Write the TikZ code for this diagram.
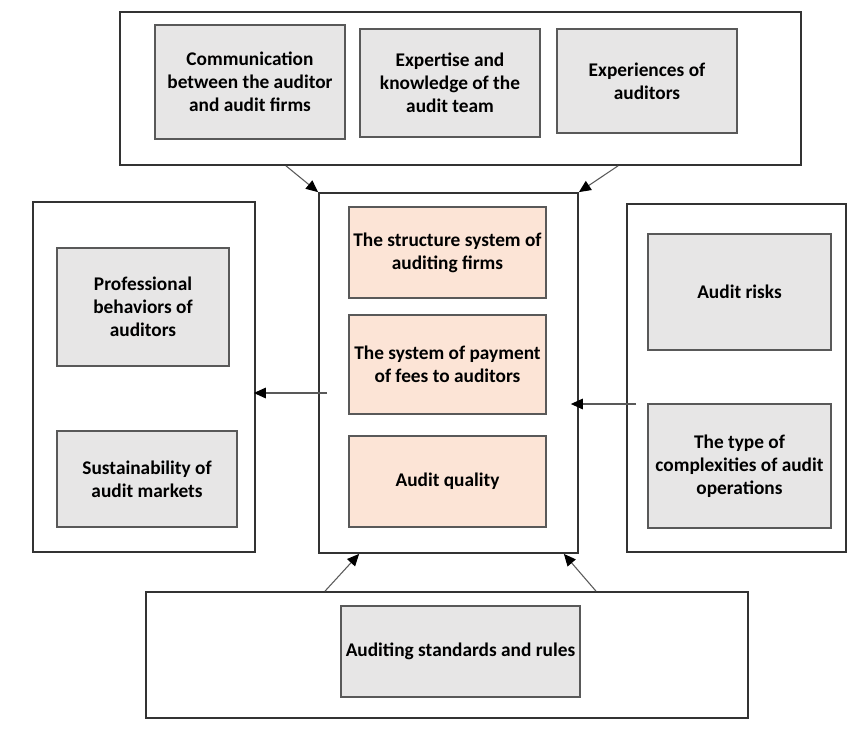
\documentclass[tikz,border=0pt]{standalone}
\usepackage{fontspec}
\setmainfont{Carlito}
\usepackage{tikz}
\usetikzlibrary{arrows.meta,positioning,calc}
\usepackage{xcolor}
\definecolor{factorcol}{RGB}{231,230,230}
\definecolor{corecol}{RGB}{252,228,214}
\definecolor{edgecol}{RGB}{89,89,89}

\begin{document}
\begin{tikzpicture}[
  x=0.75pt, y=-0.75pt,
  group/.style={draw=black!80, line width=1.3pt, fill=white, inner sep=0pt},
  factor/.style={draw=edgecol, line width=0.8pt, fill=factorcol, inner sep=2pt,
                 align=center, font=\fontsize{14.5}{17.3}\selectfont\bfseries},
  core/.style={factor, fill=corecol},
  link/.style={draw=black!65, line width=0.8pt,
               -{Triangle[length=9pt,width=8pt,color=black]}},
]
  \useasboundingbox (0,0) rectangle (861,729);

  % Outer groups
  \node[group, minimum width=510.75pt, minimum height=114.75pt] (top)    at (460.5,88.5) {};
  \node[group, minimum width=166.5pt,  minimum height=262.5pt]  (left)   at (144,377) {};
  \node[group, minimum width=194.25pt, minimum height=270pt]    (center) at (448.5,373) {};
  \node[group, minimum width=164.25pt, minimum height=261pt]    (right)  at (736.5,378) {};
  \node[group, minimum width=451.5pt,  minimum height=94.5pt]   (bottom) at (447,655) {};

  % Top factors
  \node[factor, minimum width=142.5pt, minimum height=85.5pt] (comm) at (250,82)
    {Communication\\between the auditor\\and audit firms};
  \node[factor, minimum width=135pt, minimum height=81pt] (expert) at (450,83)
    {Expertise and\\knowledge of the\\audit team};
  \node[factor, minimum width=135pt, minimum height=78pt] (exper) at (647,81)
    {Experiences of\\auditors};

  % Left factors
  \node[factor, minimum width=129pt, minimum height=88.5pt] (behav) at (143,307)
    {Professional\\behaviors of\\auditors};
  \node[factor, minimum width=135pt, minimum height=72pt] (sustain) at (147,479)
    {Sustainability of\\audit markets};

  % Core
  \node[core, minimum width=147.75pt, minimum height=68.25pt] (struct) at (447.5,252.5)
    {The structure system of\\auditing firms};
  \node[core, minimum width=147.75pt, minimum height=74.25pt] (fees) at (447.5,364.5)
    {The system of payment\\of fees to auditors};
  \node[core, minimum width=147.75pt, minimum height=68.25pt] (quality) at (447.5,481.5)
    {Audit quality};

  % Right factors
  \node[factor, minimum width=137.25pt, minimum height=87pt] (risks) at (739.5,292)
    {Audit risks};
  \node[factor, minimum width=137.25pt, minimum height=93pt] (complex) at (739.5,466)
    {The type of\\complexities of audit\\operations};

  % Bottom factor
  \node[factor, minimum width=179.25pt, minimum height=68.25pt] (rules) at (460.5,651.5)
    {Auditing standards and rules};

  % Connections
  \draw[link] ($(top.south)+(-174.5,0)$) -- (center.north west);
  \draw[link] ($(top.south)+(157.5,0)$)  -- (center.north east);
  \draw[link] ($(bottom.north)+(-122,0)$) -- ($(center.south west)+(41,0)$);
  \draw[link] ($(bottom.north)+(149,0)$)  -- ($(center.south east)+(-15,0)$);
  \draw[link] ($(center.west)+(9,20)$) -- ($(left.east |- center.west)+(-2,20)$);
  \draw[link] ($(right.west)+(10,26)$) -- ($(center.east |- right.west)+(-8,26)$);
\end{tikzpicture}
\end{document}
